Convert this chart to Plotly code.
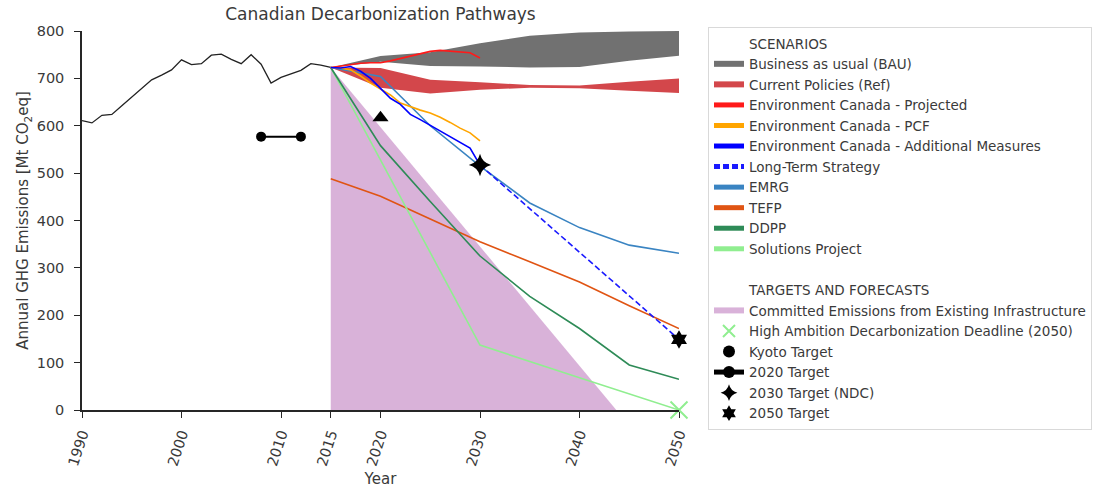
import plotly.graph_objects as go

# Historical national emissions (Mt CO2eq)
hist_years = list(range(1990, 2016))
hist_values = [611, 606, 622, 624, 642, 660, 680, 697, 707, 718, 739, 729, 731,
               749, 751, 740, 731, 750, 730, 690, 702, 710, 717, 731, 728, 723]

# Scenario bands
band_years = [2015, 2020, 2025, 2030, 2035, 2040, 2045, 2050]
bau_upper = [723, 747, 755, 774, 790, 797, 799, 800]
bau_lower = [723, 735, 726, 725, 723, 724, 737, 748]
ref_upper = [723, 722, 697, 692, 686, 685, 693, 700]
ref_lower = [723, 680, 668, 676, 680, 679, 674, 669]

# Environment Canada annual projections
ec_years = list(range(2015, 2031))
ec_projected = [723, 726, 730, 732, 733, 733, 737, 742, 748, 753, 757, 759, 757, 755, 754, 743]
ec_pcf = [723, 722, 718, 705, 690, 678, 665, 648, 640, 633, 627, 618, 607, 595, 585, 568]
ec_additional = [723, 722, 725, 715, 700, 678, 658, 645, 624, 613, 601, 590, 578, 566, 553, 517]

# Long-term strategy
lts_years = [2030, 2050]
lts_values = [517, 149]

# Modelled pathways
model_years = [2015, 2020, 2025, 2030, 2035, 2040, 2045, 2050]
emrg_values = [723, 704, 600, 515, 437, 385, 348, 331]
tefp_values = [488, 451, 403, 355, 313, 270, 220, 172]
ddpp_values = [723, 558, 440, 325, 240, 172, 95, 65]
sol_years = [2015, 2020, 2025, 2030, 2040, 2050]
sol_values = [723, 528, 333, 137, 68, 0]

# Committed emissions from existing infrastructure (triangle)
commit_years = [2015, 2015, 2043.7]
commit_values = [0, 723, 0]

# Targets
kyoto_years = [2008, 2012]
kyoto_values = [577, 577]
t2020_year, t2020_value = 2020, 617
t2030_year, t2030_value = 2030, 517
t2050_year, t2050_value = 2050, 149
deadline_year, deadline_value = 2050, 0

x_ticks = [1990, 2000, 2010, 2015, 2020, 2030, 2040, 2050]
y_ticks = list(range(0, 801, 100))

FONT = "DejaVu Sans"
TXT = "#3a3a3a"

fig = go.Figure()

def header(name, rank):
    fig.add_trace(go.Scatter(x=[None], y=[None], mode="markers", name=name,
                             marker=dict(color="rgba(0,0,0,0)", size=1),
                             legendrank=rank, hoverinfo="skip"))

# Filled regions (drawn first, underneath lines)
fig.add_trace(go.Scatter(x=commit_years, y=commit_values, mode="none", fill="toself",
                         fillcolor="rgba(128,0,128,0.3)",
                         name="Committed Emissions from Existing Infrastructure",
                         legendrank=14))
fig.add_trace(go.Scatter(x=band_years + band_years[::-1], y=bau_upper + bau_lower[::-1],
                         mode="none", fill="toself", fillcolor="#717171",
                         name="Business as usual (BAU)", legendrank=2))
fig.add_trace(go.Scatter(x=band_years + band_years[::-1], y=ref_upper + ref_lower[::-1],
                         mode="none", fill="toself", fillcolor="#d3474b",
                         name="Current Policies (Ref)", legendrank=3))

# Historical emissions
fig.add_trace(go.Scatter(x=hist_years, y=hist_values, mode="lines",
                         line=dict(color="#222222", width=1.3), showlegend=False))

lw = 1.6
fig.add_trace(go.Scatter(x=model_years, y=tefp_values, mode="lines", name="TEFP",
                         line=dict(color="#e05413", width=lw), legendrank=9))
fig.add_trace(go.Scatter(x=sol_years, y=sol_values, mode="lines", name="Solutions Project",
                         line=dict(color="#90ee90", width=lw), legendrank=11))
fig.add_trace(go.Scatter(x=model_years, y=ddpp_values, mode="lines", name="DDPP",
                         line=dict(color="#2e8b57", width=lw), legendrank=10))
fig.add_trace(go.Scatter(x=model_years, y=emrg_values, mode="lines", name="EMRG",
                         line=dict(color="#3a84c2", width=lw), legendrank=8))
fig.add_trace(go.Scatter(x=lts_years, y=lts_values, mode="lines", name="Long-Term Strategy",
                         line=dict(color="#1a1aff", width=lw, dash="6px,3px"), legendrank=7))
fig.add_trace(go.Scatter(x=ec_years, y=ec_projected, mode="lines",
                         name="Environment Canada - Projected",
                         line=dict(color="#ff1a1a", width=lw), legendrank=4))
fig.add_trace(go.Scatter(x=ec_years, y=ec_pcf, mode="lines", name="Environment Canada - PCF",
                         line=dict(color="#ffa500", width=lw), legendrank=5))
fig.add_trace(go.Scatter(x=ec_years, y=ec_additional, mode="lines",
                         name="Environment Canada - Additional Measures",
                         line=dict(color="#0000ff", width=lw), legendrank=6))

# Legend section headers
header("SCENARIOS", 1)
header(" ", 12)
header("TARGETS AND FORECASTS", 13)

# Targets and deadlines
fig.add_trace(go.Scatter(x=[deadline_year], y=[deadline_value], mode="markers",
                         name="High Ambition Decarbonization Deadline (2050)",
                         marker=dict(symbol="x-thin", size=17,
                                     line=dict(color="#90ee90", width=2)),
                         cliponaxis=False, legendrank=15))
fig.add_trace(go.Scatter(x=kyoto_years, y=kyoto_values, mode="lines",
                         line=dict(color="black", width=2), showlegend=False,
                         legendgroup="kyoto"))
fig.add_trace(go.Scatter(x=kyoto_years, y=kyoto_values, mode="markers", name="Kyoto Target",
                         marker=dict(symbol="circle", size=10, color="black"),
                         legendgroup="kyoto", legendrank=16))
fig.add_trace(go.Scatter(x=[None], y=[None], mode="lines+markers", name="2020 Target",
                         line=dict(color="black", width=2),
                         marker=dict(symbol="circle", size=10, color="black"),
                         legendgroup="t2020", legendrank=17))
fig.add_trace(go.Scatter(x=[t2020_year], y=[t2020_value], mode="markers",
                         marker=dict(symbol="triangle-up", size=14, color="black"),
                         legendgroup="t2020", showlegend=False))
fig.add_trace(go.Scatter(x=[t2030_year], y=[t2030_value], mode="markers",
                         name="2030 Target (NDC)",
                         marker=dict(symbol="star-diamond", size=16, color="black"),
                         cliponaxis=False, legendrank=18))
fig.add_trace(go.Scatter(x=[t2050_year], y=[t2050_value], mode="markers",
                         name="2050 Target",
                         marker=dict(symbol="hexagram", size=14, color="black"),
                         cliponaxis=False, legendrank=19))

axis_common = dict(showline=True, linecolor="#262626", linewidth=1.5, ticks="outside",
                   ticklen=6, tickwidth=1.2, tickcolor="#262626", showgrid=False,
                   zeroline=False, tickfont=dict(family=FONT, size=14.5, color=TXT),
                   mirror=False)

fig.update_layout(
    width=1109, height=488,
    margin=dict(l=82, r=430, t=31, b=78, autoexpand=False),
    paper_bgcolor="white", plot_bgcolor="white",
    font=dict(family=FONT, size=14, color=TXT),
    title=dict(text="Canadian Decarbonization Pathways", x=0.5, xref="paper",
               y=1 - 14 / 488, yref="container", yanchor="middle",
               font=dict(family=FONT, size=17, color=TXT)),
    xaxis=dict(range=[1990, 2050], tickvals=x_ticks, ticktext=[str(t) for t in x_ticks],
               tickangle=-72, ticklabelstandoff=2,
               title=dict(text="Year", standoff=10, font=dict(family=FONT, size=15, color=TXT)),
               **axis_common),
    yaxis=dict(range=[0, 800], tickvals=y_ticks, ticklabelstandoff=7,
               title=dict(text="Annual GHG Emissions [Mt CO<sub>2</sub>eq]", standoff=4,
                          font=dict(family=FONT, size=15, color=TXT)),
               **axis_common),
    legend=dict(x=(708 - 82) / 597, xanchor="left", y=1 - 27 / 488, yref="container",
                yanchor="top", maxheight=1,
                bordercolor="#d9d9d9", borderwidth=1, bgcolor="white",
                font=dict(family=FONT, size=13.5, color=TXT), itemsizing="constant",
                tracegroupgap=0, traceorder="normal"),
    showlegend=True,
)

fig.write_html("out.html")
